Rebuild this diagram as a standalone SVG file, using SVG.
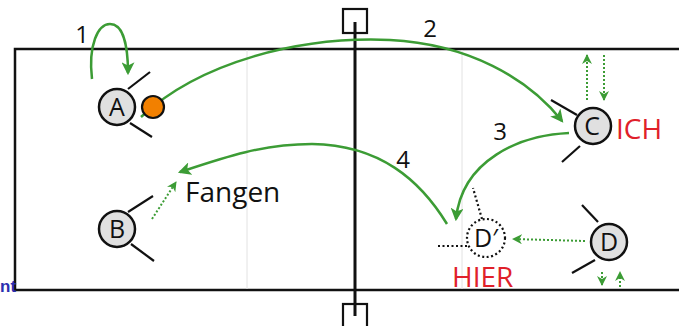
<svg xmlns="http://www.w3.org/2000/svg" width="679" height="326" viewBox="0 0 679 326">
<defs>
<marker id="ah" viewBox="0 0 12 12" refX="10" refY="6" markerWidth="13" markerHeight="13" markerUnits="userSpaceOnUse" orient="auto">
<path d="M0,0 L12,6 L0,12 L3,6 z" fill="#3c9c35"/>
</marker>
<marker id="ahs" viewBox="0 0 10 10" refX="9" refY="5" markerWidth="10" markerHeight="10" markerUnits="userSpaceOnUse" orient="auto">
<path d="M0,0 L10,5 L0,10 L3,5 z" fill="#3c9c35"/>
</marker>
</defs>
<style>
.court{fill:none;stroke:#111;stroke-width:2.5}
.grid{stroke:#e2e2e2;stroke-width:1}
.net{stroke:#111;stroke-width:3}
.post{fill:none;stroke:#111;stroke-width:2.2}
.p{fill:#e0e0e0;stroke:#111;stroke-width:2.5}
.pd{fill:#fff;stroke:#111;stroke-width:2.2;stroke-dasharray:2 2.5}
.arm{stroke:#111;stroke-width:2.2;fill:none}
.armd{stroke:#111;stroke-width:2.2;fill:none;stroke-dasharray:2 2.5}
.mv{fill:none;stroke:#3c9c35;stroke-width:2.5;marker-end:url(#ah)}
.dt{fill:none;stroke:#3c9c35;stroke-width:2;stroke-dasharray:2 2;marker-end:url(#ahs)}
.t{font-family:"Open Sans","Liberation Sans",sans-serif;fill:#111}
.pl{font-family:"Open Sans","Liberation Sans",sans-serif;font-size:25px;fill:#111;text-anchor:middle}
.red{font-family:"Open Sans","Liberation Sans",sans-serif;font-size:28px;fill:#e0202a}
</style>
<g id="court">
<rect class="court" x="15" y="49" width="670" height="241"/>
<line class="grid" x1="247" y1="50" x2="247" y2="289"/>
<line class="grid" x1="462" y1="50" x2="462" y2="289"/>
<rect class="post" x="343" y="9" width="24" height="24"/>
<rect class="post" x="343" y="304" width="24" height="24"/>
<line class="net" x1="355" y1="22" x2="355" y2="316"/>
</g>
<text x="0" y="292" font-family="Liberation Sans, sans-serif" font-size="17" font-weight="bold" fill="#2b2fb0">nt</text>
<g id="connectors">
<path class="mv" d="M92,79 C88,45 98,24 110,24 C123,24 128,45 128,73"/>
<path class="mv" d="M141,117 C200,62 300,36 390,40 C468,44 528,78 562,121"/>
<path class="mv" d="M569,133 C520,135 462,160 456,219"/>
<path class="mv" d="M447,224 C420,180 380,145 312,144 C262,144 222,158 180,172"/>
<path class="dt" d="M152,219 L176,182"/>
<path class="dt" d="M587,100 L587,55"/>
<path class="dt" d="M604,55 L604,100"/>
<path class="dt" d="M585,241 L513,239"/>
<path class="dt" d="M602,272 L602,285"/>
<path class="dt" d="M620,287 L620,272"/>
</g>
<g id="labels">
<text class="t" x="82" y="43" font-size="24" text-anchor="middle">1</text>
<text class="t" x="430" y="37" font-size="24" text-anchor="middle">2</text>
<text class="t" x="500" y="140" font-size="24" text-anchor="middle">3</text>
<text class="t" x="403" y="168" font-size="24" text-anchor="middle">4</text>
</g>
<g id="ball"><circle cx="153" cy="107" r="11" fill="#f28000" stroke="#111" stroke-width="2.2"/></g>
<g id="A">
<line class="arm" x1="128" y1="89" x2="150" y2="72"/>
<line class="arm" x1="130" y1="123" x2="152" y2="137"/>
<circle class="p" cx="117" cy="107" r="18"/>
<text class="pl" x="117" y="116">A</text>
</g>
<g id="B">
<line class="arm" x1="128" y1="212" x2="153" y2="196"/>
<line class="arm" x1="131" y1="244" x2="154" y2="261"/>
<circle class="p" cx="117" cy="229" r="18"/>
<text class="pl" x="117" y="238">B</text>
<text class="t" x="185" y="202" font-size="28">Fangen</text>
</g>
<g id="C">
<line class="arm" x1="577" y1="115" x2="551" y2="100"/>
<line class="arm" x1="580" y1="146" x2="562" y2="162"/>
<circle class="p" cx="593" cy="126" r="18"/>
<text class="pl" x="592" y="135">C</text>
<text class="red" x="616" y="139">ICH</text>
</g>
<g id="Dprime">
<line class="armd" x1="482" y1="219" x2="473" y2="188"/>
<line class="armd" x1="467" y1="246" x2="438" y2="246"/>
<circle class="pd" cx="486" cy="238" r="19"/>
<text class="pl" x="486" y="247">D′</text>
<text class="red" x="452" y="287">HIER</text>
</g>
<g id="D">
<line class="arm" x1="598" y1="222" x2="582" y2="205"/>
<line class="arm" x1="595" y1="260" x2="572" y2="273"/>
<circle class="p" cx="609" cy="242" r="18"/>
<text class="pl" x="609" y="251">D</text>
</g>
</svg>
